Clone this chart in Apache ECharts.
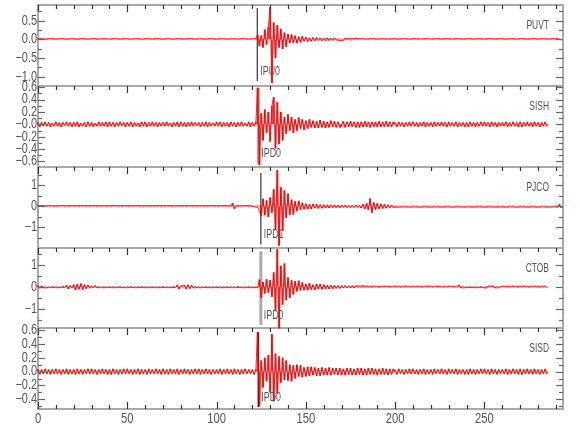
<!DOCTYPE html>
<html><head><meta charset="utf-8">
<script src="https://cdn.jsdelivr.net/npm/echarts@6/dist/echarts.min.js"></script>
<style>html,body{margin:0;padding:0;background:#fff}#c{width:580px;height:440px}</style>
</head><body><div id="c"></div>
<script>
// ---------------- data ----------------
const stations = ['PUVT', 'SISH', 'PJCO', 'CTOB', 'SISD'];
const sampleStep = 1; // time units between samples
const timeMin = 0, timeMax = 294;
const xMajorTicks = [0, 50, 100, 150, 200, 250];
const xMinorTicks = [10, 20, 30, 40, 60, 70, 80, 90, 110, 120, 130, 140, 160, 170, 180, 190, 210, 220, 230, 240, 260, 270, 280, 290];
const xTickText = ['0', '50', '100', '150', '200', '250'];

const ampMin = [-1.25, -0.69, -1.97, -1.85, -0.54];
const ampMax = [0.92, 0.62, 1.86, 1.75, 0.63];
const yMajorTicks = [
  [-1.0, -0.5, 0, 0.5],
  [-0.6, -0.4, -0.2, 0, 0.2, 0.4, 0.6],
  [-1, 0, 1],
  [-1, 0, 1],
  [-0.4, -0.2, 0, 0.2, 0.4, 0.6]
];
const yTickText = [
  ['\u22121.0', '\u22120.5', '0.0', '0.5'],
  ['\u22120.6', '\u22120.4', '\u22120.2', '\u22120.0', '0.2', '0.4', '0.6'],
  ['\u22121', '0', '1'],
  ['\u22121', '0', '1'],
  ['\u22120.4', '\u22120.2', '0.0', '0.2', '0.4', '0.6']
];
const yMinorTicks = [
  [-0.75, -0.25, 0.25, 0.75],
  [-0.5, -0.3, -0.1, 0.1, 0.3, 0.5],
  [-1.5, -0.5, 0.5, 1.5],
  [-1.5, -0.5, 0.5, 1.5],
  [-0.5, -0.3, -0.1, 0.1, 0.3, 0.5]
];

const pickTime = [122.8, 123.4, 124.8, 124.8, 123.4];
const pickTop = [0.84, 0.59, 1.58, 1.6, 0.57];
const pickBottom = [-1.115, -0.64, -1.8, -1.72, -0.51];
const pickLabel = ['IPU0', 'IPD0', 'IPD1', 'IPD0', 'IPD0'];

const tracePUVT = [
0.02,-0.01,0.02,-0.02,0.01,-0.02,0.02,-0.01,0.02,-0.02,
0.01,-0.02,0.02,-0.01,0.02,-0.02,0.01,-0.02,0.02,-0.01,
0.02,-0.02,0.01,-0.02,0.02,-0.01,0.02,-0.02,0.01,-0.02,
0.02,-0.01,0.02,-0.02,0.01,-0.01,0.02,-0.02,0.02,-0.01,
0.01,-0.02,0.02,-0.01,0.02,-0.02,0.01,-0.02,0.02,-0.01,
0.02,-0.02,0.01,-0.02,0.02,-0.01,0.02,-0.02,0.01,-0.02,
0.02,-0.01,0.02,-0.02,0.01,-0.02,0.02,-0.01,0.02,-0.02,
0.01,-0.02,0.02,-0.01,0.02,-0.02,0.01,-0.02,0.02,-0.01,
0.02,-0.02,0.01,-0.02,0.02,-0.01,0.02,-0.02,0.01,-0.02,
0.02,-0.01,0.02,-0.02,0.01,-0.02,0.02,-0.01,0.02,-0.02,
0.01,-0.02,0.02,-0.01,0.02,-0.02,0.01,-0.02,0.02,-0.01,
0.02,-0.02,0.01,-0.02,0.02,-0.01,0.02,-0.02,0.01,-0.02,
0.02,-0.01,0.02,0.12,-0.18,0.1,-0.22,0.26,-0.14,0.34,
0.86,-1.17,0.45,-0.5,0.38,-0.22,0.28,-0.26,0.18,-0.2,
0.14,-0.1,0.13,-0.09,0.1,-0.1,0.07,-0.08,0.08,-0.05,
0.06,-0.06,0.04,-0.05,0.05,-0.04,0.05,-0.03,0.04,-0.04,
0.03,-0.04,0.04,-0.03,0.03,-0.03,0.04,-0.02,0.03,-0.03,
0.02,-0.03,0.03,-0.02,0.02,-0.03,0.02,-0.02,0.03,-0.02,
0.02,-0.01,0.02,-0.02,0.01,-0.02,0.02,-0.01,0.02,-0.02,
0.01,-0.02,0.02,-0.01,0.02,-0.02,0.01,-0.02,0.02,-0.01,
0.02,-0.02,0.01,-0.02,0.02,-0.01,0.02,-0.02,0.01,-0.02,
0.02,-0.01,0.02,-0.02,0.01,-0.01,0.02,-0.02,0.02,-0.01,
0.01,-0.02,0.02,-0.01,0.02,-0.02,0.01,-0.02,0.02,-0.01,
0.02,-0.02,0.01,-0.02,0.02,-0.01,0.02,-0.02,0.01,-0.02,
0.02,-0.01,0.02,-0.02,0.01,-0.02,0.02,-0.01,0.02,-0.02,
0.01,-0.02,0.02,-0.01,0.02,-0.02,0.01,-0.02,0.02,-0.01,
0.02,-0.02,0.01,-0.02,0.02,-0.01,0.02,-0.02,0.01,-0.02,
0.02,-0.01,0.02,-0.02,0.01,-0.02,0.02,-0.01,0.02,-0.02,
0.01,-0.02,0.02,-0.01,0.02,-0.02,0.01,-0.02,0.02,-0.01,
0.02,-0.02,0.01,-0.02
];

const traceSISH = [
0.03,-0.04,0.03,-0.03,0.04,-0.03,0.03,-0.04,0.02,-0.03,
0.04,-0.03,0.03,-0.04,0.03,-0.02,0.04,-0.03,0.03,-0.04,
0.03,-0.03,0.04,-0.04,0.02,-0.03,0.03,-0.04,0.04,-0.03,
0.03,-0.04,0.02,-0.03,0.04,-0.03,0.03,-0.03,0.04,-0.04,
0.04,-0.03,0.03,-0.04,0.03,-0.03,0.04,-0.02,0.03,-0.04,
0.03,-0.03,0.04,-0.04,0.03,-0.03,0.02,-0.04,0.04,-0.03,
0.04,-0.04,0.03,-0.03,0.04,-0.03,0.03,-0.04,0.03,-0.03,
0.03,-0.03,0.04,-0.03,0.02,-0.04,0.03,-0.03,0.04,-0.04,
0.04,-0.03,0.03,-0.04,0.03,-0.03,0.04,-0.03,0.03,-0.02,
0.03,-0.04,0.03,-0.03,0.04,-0.04,0.03,-0.03,0.02,-0.03,
0.04,-0.03,0.04,-0.04,0.03,-0.03,0.03,-0.04,0.04,-0.03,
0.03,-0.04,0.03,-0.03,0.04,-0.03,0.02,-0.03,0.04,-0.04,
0.03,-0.03,0.04,0.59,-0.66,0.18,-0.26,0.24,-0.14,0.2,
-0.28,0.3,0.44,-0.39,0.36,-0.32,0.2,-0.26,0.12,-0.15,
0.16,-0.1,0.12,-0.14,0.08,-0.1,0.11,-0.07,0.08,-0.09,
0.06,-0.07,0.08,-0.05,0.06,-0.06,0.05,-0.06,0.07,-0.05,
0.05,-0.06,0.04,-0.05,0.06,-0.04,0.05,-0.05,0.04,-0.05,
-0.04,0.05,-0.05,0.04,-0.04,0.05,-0.04,0.04,-0.05,0.04,
-0.05,0.04,-0.04,0.05,-0.04,0.04,-0.05,0.04,-0.04,0.04,
-0.04,0.05,-0.04,0.04,-0.04,0.05,-0.04,0.04,-0.04,0.04,
0.03,-0.04,0.04,-0.03,0.03,-0.04,0.03,-0.03,0.04,-0.03,
0.04,-0.03,0.03,-0.04,0.03,-0.03,0.04,-0.04,0.03,-0.03,
0.03,-0.04,0.04,-0.03,0.03,-0.03,0.04,-0.03,0.03,-0.04,
0.04,-0.03,0.03,-0.03,0.04,-0.04,0.03,-0.03,0.03,-0.04,
0.03,-0.04,0.04,-0.03,0.03,-0.04,0.03,-0.03,0.04,-0.03,
0.04,-0.03,0.03,-0.04,0.04,-0.03,0.03,-0.04,0.03,-0.03,
0.03,-0.03,0.04,-0.04,0.03,-0.03,0.04,-0.03,0.03,-0.04,
0.04,-0.04,0.03,-0.03,0.04,-0.03,0.03,-0.04,0.04,-0.03,
0.03,-0.04,0.03,-0.03,0.04,-0.03
];

const tracePJCO = [
0.04,-0.03,0.04,-0.04,0.03,-0.04,0.04,-0.03,0.03,-0.04,
0.03,-0.04,0.04,-0.03,0.04,-0.04,0.03,-0.04,0.04,-0.03,
0.04,-0.04,0.03,-0.04,0.04,-0.03,0.04,-0.04,0.03,-0.04,
0.04,-0.03,0.04,-0.04,0.03,-0.04,0.04,-0.03,0.04,-0.04,
0.03,-0.04,0.04,-0.03,0.04,-0.04,0.03,-0.04,0.04,-0.03,
0.04,-0.04,0.03,-0.04,0.04,-0.03,0.04,-0.04,0.03,-0.04,
0.04,-0.03,0.04,-0.04,0.03,-0.04,0.04,-0.03,0.04,-0.04,
0.03,-0.04,0.04,-0.03,0.04,-0.04,0.03,-0.04,0.04,-0.03,
0.04,-0.04,0.03,-0.04,0.04,-0.03,0.04,-0.04,0.03,-0.04,
0.04,-0.03,0.04,-0.04,0.03,-0.04,0.04,-0.03,0.04,-0.04,
0.03,-0.04,0.04,-0.03,0.04,-0.04,0.03,-0.04,0.04,0.15,
-0.12,0.04,-0.04,0.03,-0.04,0.04,-0.03,0.04,-0.04,0.03,
0.04,-0.03,0.04,-0.04,0.05,-0.45,0.36,-0.42,0.28,-0.5,
0.42,-0.3,0.8,-1.1,1.72,-1.86,0.9,-1.15,0.75,-0.55,
0.6,-0.4,0.32,-0.38,0.24,-0.22,0.26,-0.16,0.17,-0.14,
0.12,-0.13,0.1,-0.12,0.11,-0.08,0.1,-0.1,0.08,-0.09,
0.08,-0.08,0.07,-0.08,0.07,-0.06,0.07,-0.06,0.06,-0.07,
0.06,-0.05,0.06,-0.06,0.05,-0.06,0.05,-0.05,0.06,-0.05,
0.05,-0.08,0.1,-0.12,0.14,-0.16,0.37,-0.3,0.18,-0.15,
0.14,-0.12,0.12,-0.1,0.1,-0.09,0.08,-0.07,0.06,-0.05,
0.04,-0.04,0.03,-0.04,0.04,-0.03,0.04,-0.04,0.03,-0.04,
0.04,-0.03,0.04,-0.04,0.03,-0.04,0.04,-0.03,0.04,-0.04,
0.03,-0.04,0.04,-0.03,0.04,-0.04,0.03,-0.04,0.04,-0.03,
0.04,-0.04,0.03,-0.04,0.04,-0.03,0.04,-0.04,0.03,-0.04,
0.04,-0.03,0.04,-0.04,0.03,-0.04,0.04,-0.03,0.04,-0.04,
0.03,-0.04,0.04,-0.03,0.04,-0.04,0.03,-0.04,0.04,-0.03,
0.04,-0.04,0.03,-0.04,0.04,-0.03,0.04,-0.04,0.03,-0.04,
0.04,-0.03,0.04,-0.04,0.03,-0.04,0.04,-0.03,0.04,-0.04,
0.03,-0.04,0.04,-0.03,0.04,-0.04,0.03,-0.04,0.04,-0.03,
0.04,-0.04,0.1,-0.08
];

const traceCTOB = [
0.06,-0.06,0.05,-0.05,0.03,-0.04,0.03,-0.03,0.04,-0.03,
0.03,-0.04,0.03,-0.03,0.04,-0.03,0.08,-0.1,0.06,-0.05,
0.1,-0.14,0.12,-0.1,0.15,-0.12,0.1,-0.08,0.09,-0.06,
0.05,-0.05,0.06,-0.04,0.04,-0.03,0.03,-0.04,0.03,-0.03,
0.04,-0.03,0.03,-0.04,0.03,-0.03,0.04,-0.03,0.03,-0.04,
0.03,-0.03,0.04,-0.03,0.03,-0.04,0.03,-0.03,0.04,-0.03,
0.03,-0.04,0.03,-0.03,0.04,-0.03,0.03,-0.04,0.03,-0.03,
0.04,-0.03,0.03,-0.04,0.03,-0.03,0.04,-0.03,0.09,-0.1,
0.05,-0.04,0.08,-0.1,0.1,-0.08,0.07,-0.05,0.04,-0.03,
0.03,-0.04,0.03,-0.03,0.04,-0.03,0.03,-0.04,0.03,-0.03,
0.04,-0.03,0.03,-0.04,0.03,-0.03,0.04,-0.03,0.03,-0.04,
0.03,-0.03,0.04,-0.03,0.03,-0.04,0.03,-0.03,0.04,-0.03,
0.03,-0.04,0.03,-0.03,0.33,-0.48,0.22,-0.3,0.34,-0.26,
0.3,-0.45,0.65,-1.05,1.7,-1.9,0.95,-0.8,1.05,-0.6,
0.42,-0.5,0.3,-0.34,0.26,-0.2,0.28,-0.16,0.2,-0.15,
0.13,-0.15,0.16,-0.12,0.1,-0.14,0.13,-0.1,0.12,-0.11,
0.1,-0.09,0.08,-0.09,0.08,-0.08,0.07,-0.07,0.06,-0.07,
0.06,-0.05,0.06,-0.05,0.05,-0.05,0.06,-0.05,0.05,-0.04,
0.04,-0.04,0.05,-0.04,0.04,-0.04,0.03,-0.04,0.04,-0.03,
0.03,-0.04,0.03,-0.03,0.04,-0.03,0.03,-0.04,0.03,-0.03,
0.04,-0.03,0.03,-0.04,0.03,-0.03,0.04,-0.03,0.03,-0.04,
0.03,-0.03,0.04,-0.03,0.03,-0.04,0.03,-0.03,0.04,-0.03,
0.03,-0.04,0.03,-0.03,0.04,-0.03,0.03,-0.04,0.03,-0.03,
0.04,-0.03,0.03,-0.04,0.03,-0.03,0.07,-0.05,0.03,-0.04,
0.03,-0.03,0.04,-0.03,0.03,-0.04,0.03,-0.03,0.04,-0.03,
0.03,-0.06,0.04,-0.03,0.04,0.07,-0.05,0.03,-0.04,0.03,
0.04,-0.03,0.03,-0.04,0.03,-0.03,0.04,-0.03,0.03,-0.04,
0.03,-0.03,0.04,-0.03,0.03,-0.04,0.03,-0.03,0.04,-0.03,
0.03,-0.04,0.03,-0.03,0.04,-0.03
];

const traceSISD = [
0.03,-0.04,0.03,-0.03,0.04,-0.03,0.03,-0.04,0.03,-0.03,
0.04,-0.03,0.03,-0.04,0.03,-0.03,0.04,-0.04,0.03,-0.03,
0.03,-0.04,0.04,-0.03,0.03,-0.04,0.03,-0.03,0.04,-0.03,
0.04,-0.03,0.03,-0.04,0.03,-0.03,0.04,-0.03,0.03,-0.04,
0.03,-0.04,0.04,-0.03,0.03,-0.04,0.03,-0.03,0.04,-0.03,
0.04,-0.03,0.03,-0.04,0.03,-0.03,0.04,-0.04,0.03,-0.03,
0.03,-0.04,0.04,-0.03,0.03,-0.03,0.04,-0.03,0.03,-0.04,
0.04,-0.03,0.03,-0.04,0.04,-0.03,0.03,-0.03,0.04,-0.04,
0.03,-0.03,0.04,-0.03,0.03,-0.04,0.03,-0.03,0.04,-0.03,
0.04,-0.04,0.03,-0.03,0.04,-0.03,0.03,-0.04,0.03,-0.03,
0.03,-0.03,0.04,-0.04,0.03,-0.03,0.04,-0.03,0.03,-0.04,
0.04,-0.03,0.03,-0.04,0.03,-0.03,0.04,-0.03,0.03,-0.03,
0.03,-0.04,0.03,0.57,-0.5,0.16,-0.23,0.2,-0.14,0.24,
-0.3,0.54,-0.43,0.26,-0.32,0.22,-0.16,0.2,-0.12,0.16,
-0.13,0.1,-0.14,0.09,-0.1,0.1,-0.07,0.09,-0.08,0.06,
-0.07,0.07,-0.06,0.07,-0.05,0.06,-0.06,0.05,-0.06,0.06,
-0.05,0.05,-0.05,0.06,-0.05,0.05,-0.04,0.05,-0.05,0.05,
-0.05,0.04,-0.05,0.05,-0.04,0.05,-0.05,0.04,-0.05,0.05,
-0.04,0.05,-0.05,0.04,-0.05,0.05,-0.04,0.05,-0.04,0.04,
-0.05,0.04,-0.04,0.05,-0.04,0.04,-0.05,0.04,-0.04,0.04,
0.03,-0.04,0.04,-0.03,0.03,-0.04,0.03,-0.03,0.04,-0.03,
0.04,-0.03,0.03,-0.04,0.03,-0.03,0.04,-0.04,0.03,-0.03,
0.03,-0.04,0.04,-0.03,0.03,-0.03,0.04,-0.03,0.03,-0.04,
0.04,-0.03,0.03,-0.03,0.04,-0.04,0.03,-0.03,0.03,-0.04,
0.03,-0.04,0.04,-0.03,0.03,-0.04,0.03,-0.03,0.04,-0.03,
0.04,-0.03,0.03,-0.04,0.04,-0.03,0.03,-0.04,0.03,-0.03,
0.03,-0.03,0.04,-0.04,0.03,-0.03,0.04,-0.03,0.03,-0.04,
0.04,-0.04,0.03,-0.03,0.04,-0.03,0.03,-0.04,0.04,-0.03,
0.03,-0.04,0.03,-0.03,0.04,-0.03
];

const traces = [tracePUVT, traceSISH, tracePJCO, traceCTOB, traceSISD];

// ---------------- layout / style ----------------
const gridTop = [5, 86, 167, 248, 328];
const gridHeight = [81, 81, 81, 80, 81];
const gridLeft = 38, gridWidth = 525;
const FONT = '"Liberation Sans", Arial, sans-serif';
const TEXT_COLOR = '#555';
const MAJOR_LEN = 7, MINOR_LEN = 4;
const pickStyles = [
  { color: '#333', width: 1.2 },
  { color: '#aaa', width: 3 },
  { color: '#333', width: 1.2 },
  { color: '#aaa', width: 3 },
  { color: '#111', width: 1.5 }
];

const grids = [], xAxes = [], yAxes = [], series = [];

for (let i = 0; i < stations.length; i++) {
  grids.push({
    left: gridLeft, width: gridWidth, top: gridTop[i], height: gridHeight[i],
    show: true, borderColor: '#a9a9a9', borderWidth: 2, backgroundColor: 'transparent',
    containLabel: false, outerBoundsMode: 'none'
  });
  xAxes.push({
    gridIndex: i, type: 'value', min: timeMin, max: timeMax, position: 'top',
    axisLine: { show: false, onZero: false }, axisTick: { show: false }, axisLabel: { show: false }, splitLine: { show: false }
  });
  yAxes.push({
    gridIndex: i, type: 'value', min: ampMin[i], max: ampMax[i], position: 'left',
    axisLine: { show: false, onZero: false }, axisTick: { show: false }, axisLabel: { show: false }, splitLine: { show: false }
  });

  const pts = traces[i].map((v, k) => [k * sampleStep, v]);
  // pick line
  series.push({
    type: 'line', xAxisIndex: i, yAxisIndex: i, z: 2, silent: true, showSymbol: false,
    lineStyle: { color: pickStyles[i].color, width: pickStyles[i].width },
    data: [[pickTime[i], pickTop[i]], [pickTime[i], pickBottom[i]]]
  });
  // waveform fill (samples drawn as bars from zero)
  series.push({
    type: 'bar', xAxisIndex: i, yAxisIndex: i, z: 3, silent: true,
    barWidth: 2, itemStyle: { color: 'rgba(255,0,0,0.8)' },
    data: pts
  });
  // waveform trace
  series.push({
    type: 'line', xAxisIndex: i, yAxisIndex: i, z: 4, silent: true,
    showSymbol: false, sampling: null,
    lineStyle: { color: '#ff0000', width: 0.8 },
    data: pts
  });
}

const chart = echarts.init(document.getElementById('c'), null, { renderer: 'canvas' });
chart.setOption({
  animation: false,
  backgroundColor: '#fff',
  grid: grids, xAxis: xAxes, yAxis: yAxes, series: series
});

// ---------------- ticks and text (positioned through the axes' scales) ----------------
const g = [];
function txt(text, x, y, align, size, sx) {
  g.push({ type: 'text', x: x, y: y, scaleX: sx, silent: true, z: 10,
    style: { text: text, align: align, verticalAlign: 'middle', textAlign: align, textVerticalAlign: 'middle',
             fill: TEXT_COLOR, font: size + 'px ' + FONT } });
}
function seg(x1, y1, x2, y2, color) {
  g.push({ type: 'polyline', silent: true, z: 9,
    shape: { points: [[x1, y1], [x2, y2]] }, style: { stroke: color, lineWidth: 1.2, fill: null } });
}
const last = stations.length - 1;
for (let i = 0; i < stations.length; i++) {
  const xPix = v => chart.convertToPixel({ xAxisIndex: i }, v);
  const yPix = v => chart.convertToPixel({ yAxisIndex: i }, v);
  const top = yPix(ampMax[i]), bottom = yPix(ampMin[i]);
  const left = xPix(timeMin), right = xPix(timeMax);
  const xTick = (v, len, fromBottom) => {
    const px = Math.round(xPix(v)) + 0.5;
    if (fromBottom) seg(px, bottom, px, bottom - len, '#333');
    else seg(px, top, px, top + len, '#333');
  };
  const yTick = (v, len) => {
    const py = Math.round(yPix(v)) + 0.5;
    seg(left, py, left + len, py, '#666');
    seg(right - len, py, right, py, '#666');
  };
  xMajorTicks.forEach(v => xTick(v, MAJOR_LEN, false));
  xMinorTicks.forEach(v => xTick(v, MINOR_LEN, false));
  if (i === last) {
    xMajorTicks.forEach(v => xTick(v, MAJOR_LEN, true));
    xMinorTicks.forEach(v => xTick(v, MINOR_LEN, true));
  }
  yMajorTicks[i].forEach(v => yTick(v, MAJOR_LEN));
  yMinorTicks[i].forEach(v => yTick(v, MINOR_LEN));

  yMajorTicks[i].forEach((v, k) => {
    txt(yTickText[i][k], gridLeft - 1, yPix(v), 'right', 14, 0.78);
  });
  txt(pickLabel[i], xPix(pickTime[i]) + 3, yPix(pickBottom[i]) - 10, 'left', 13, 0.68);
  txt(stations[i], gridLeft + gridWidth - 14, gridTop[i] + 20, 'right', 13, 0.65);
}
xMajorTicks.forEach((v, k) => {
  const px = chart.convertToPixel({ xAxisIndex: last }, v);
  txt(xTickText[k], px, gridTop[last] + gridHeight[last] + 10, 'center', 14, 0.8);
});
chart.setOption({ graphic: g });
</script></body></html>
